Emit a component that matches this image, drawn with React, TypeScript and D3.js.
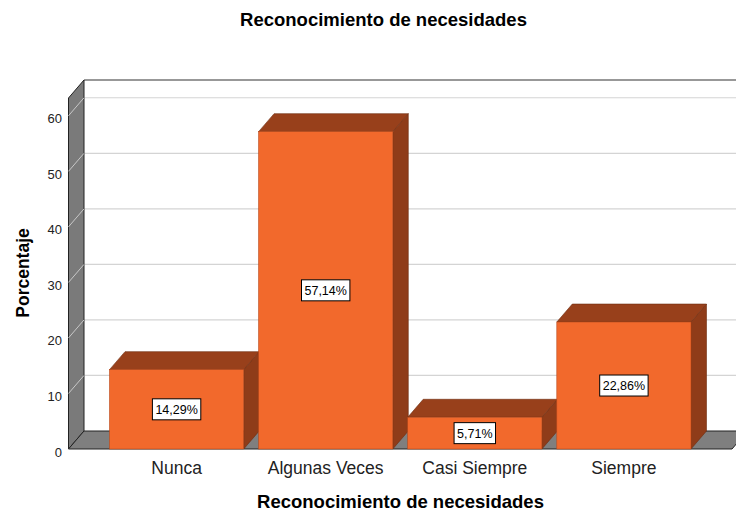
import React from "react";
import * as d3 from "d3";

const categories = ["Nunca", "Algunas Veces", "Casi Siempre", "Siempre"];
const values = [14.29, 57.14, 5.71, 22.86];
const valueLabels = ["14,29%", "57,14%", "5,71%", "22,86%"];
const yTicks = [0, 10, 20, 30, 40, 50, 60];
const title = "Reconocimiento de necesidades";
const xTitle = "Reconocimiento de necesidades";
const yTitle = "Porcentaje";

const W = 736;
const H = 514;
const FONT = "'Liberation Sans', Arial, sans-serif";
const DX = 15.5;
const DY = -18;

function measure(text: string, font: string): number {
  const c = document.createElement("canvas").getContext("2d");
  if (!c) return text.length * 7;
  c.font = font;
  return c.measureText(text).width;
}

export default function App() {
  const left = 68.5;
  const right = 732;
  const y = d3.scaleLinear().domain([0, 63.2]).range([449, 98]);
  const x = d3
    .scaleBand<string>()
    .domain(categories)
    .range([left, right])
    .paddingInner(0.1)
    .paddingOuter(0.275);

  const y0 = y(0);
  const yTop = y(63.2);
  const pts = (a: [number, number][]) => a.map((p) => p.join(",")).join(" ");

  const front = "#F2692C";
  const topC = "#98401B";
  const sideC = "#8F3C19";

  return (
    <svg width={W} height={H} style={{ position: "absolute", left: 0, top: 0, background: "#fff" }}>
      {/* title */}
      <text x={383.5} y={26} textAnchor="middle" fontFamily={FONT} fontWeight="bold" fontSize={18.5} fill="#000">
        {title}
      </text>

      {/* back wall */}
      <rect x={left + DX} y={yTop + DY} width={right - left} height={y0 - yTop} fill="#fff" />
      {yTicks.filter((t) => t > 0).map((t) => (
        <line key={t} x1={left + DX} x2={right + DX} y1={y(t) + DY} y2={y(t) + DY} stroke="#d4d4d4" strokeWidth={1.2} />
      ))}
      <line x1={left + DX} x2={right + DX} y1={yTop + DY} y2={yTop + DY} stroke="#333" strokeWidth={1.2} />

      {/* left wall */}
      <polygon
        points={pts([
          [left, y0],
          [left, yTop],
          [left + DX, yTop + DY],
          [left + DX, y0 + DY],
        ])}
        fill="#7a7a7a"
        stroke="#222"
        strokeWidth={1}
      />
      {yTicks.filter((t) => t > 0).map((t) => (
        <line key={"lw" + t} x1={left} x2={left + DX} y1={y(t)} y2={y(t) + DY} stroke="#c8c8c8" strokeWidth={1} />
      ))}

      {/* floor */}
      <polygon
        points={pts([
          [left, y0],
          [left + DX, y0 + DY],
          [right + DX, y0 + DY],
          [right, y0],
        ])}
        fill="#7f7f7f"
        stroke="#222"
        strokeWidth={1}
      />

      {/* y ticks */}
      {yTicks.map((t) => (
        <text key={"t" + t} x={62} y={y(t) + 7.5} textAnchor="end" fontFamily={FONT} fontSize={13} fill="#222">
          {t}
        </text>
      ))}

      {/* bars */}
      {categories.map((c, i) => {
        const bx = x(c) as number;
        const bw = x.bandwidth();
        const by = y(values[i]);
        const label = valueLabels[i];
        const tw = measure(label, `12.5px ${FONT}`);
        const cy = (by + y0) / 2;
        return (
          <g key={c}>
            <polygon
              points={pts([
                [bx + bw, y0],
                [bx + bw, by],
                [bx + bw + DX, by + DY],
                [bx + bw + DX, y0 + DY],
              ])}
              fill={sideC}
              stroke="#6e2d10"
              strokeWidth={0.6}
            />
            <polygon
              points={pts([
                [bx, by],
                [bx + DX, by + DY],
                [bx + bw + DX, by + DY],
                [bx + bw, by],
              ])}
              fill={topC}
              stroke="#6e2d10"
              strokeWidth={0.6}
            />
            <rect x={bx} y={by} width={bw} height={y0 - by} fill={front} stroke="#b84a1c" strokeWidth={0.6} />
            <rect
              x={bx + bw / 2 - tw / 2 - 3}
              y={cy - 10.5}
              width={tw + 6}
              height={21}
              fill="#fff"
              stroke="#000"
              strokeWidth={1}
            />
            <text x={bx + bw / 2} y={cy + 4.5} textAnchor="middle" fontFamily={FONT} fontSize={12.5} fill="#000">
              {label}
            </text>
            <text x={bx + bw / 2} y={474} textAnchor="middle" fontFamily={FONT} fontSize={17.5} fill="#222">
              {c}
            </text>
          </g>
        );
      })}

      {/* axis titles */}
      <text x={400.5} y={508} textAnchor="middle" fontFamily={FONT} fontWeight="bold" fontSize={18.5} fill="#000">
        {xTitle}
      </text>
      <text
        transform={`translate(29,273) rotate(-90)`}
        textAnchor="middle"
        fontFamily={FONT}
        fontWeight="bold"
        fontSize={17.5}
        fill="#000"
      >
        {yTitle}
      </text>
    </svg>
  );
}
